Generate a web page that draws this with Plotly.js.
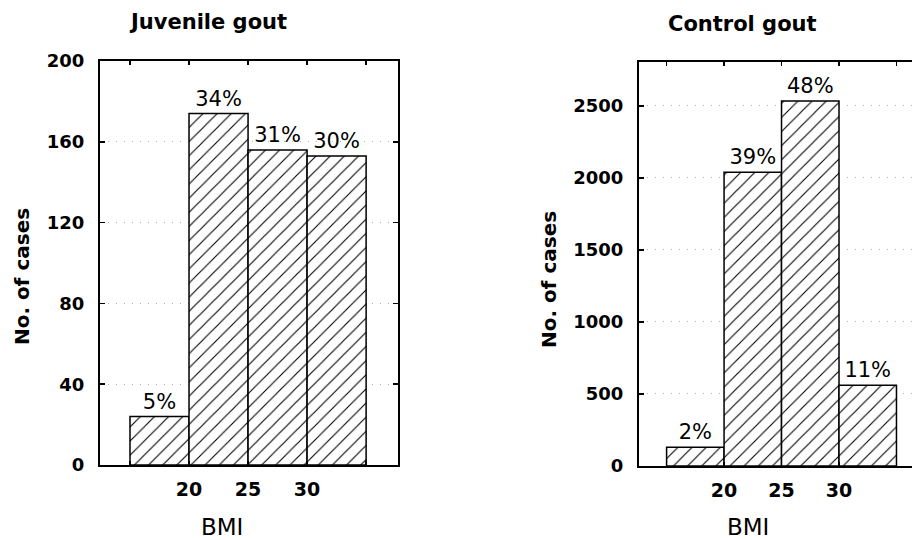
<!DOCTYPE html>
<html>
<head>
<meta charset="utf-8">
<script src="https://cdn.plot.ly/plotly-3.0.1.min.js"></script>
<style>html,body{margin:0;padding:0;background:#fff}#chart{width:912px;height:540px}</style>
</head>
<body>
<div id="chart"></div>
<script>
// BMI class midpoints (<20, 20-25, 25-30, >30) and bin width
var bmiMid = [17.5, 22.5, 27.5, 32.5];
var binWidth = 5;
var juvenileCases = [24, 174, 156, 153];
var juvenileLabels = ['5%', '34%', '31%', '30%'];
var controlCases = [130, 2040, 2535, 560];
var controlLabels = ['2%', '39%', '48%', '11%'];
var xTickVals = [15, 20, 25, 30, 35];
var xTickText = ['', '20', '25', '30', ''];
var juvYTicks = [0, 40, 80, 120, 160, 200];
var ctrlYTicks = [0, 500, 1000, 1500, 2000, 2500];

var FONT = 'DejaVu Sans, Verdana, sans-serif';

function barTrace(y, labels, xa, ya) {
  return {
    type: 'bar', x: bmiMid, y: y, width: binWidth,
    xaxis: xa, yaxis: ya,
    text: labels, textposition: 'outside', cliponaxis: false,
    textfont: {family: FONT, size: 21, color: '#000'},
    marker: {
      color: '#fff',
      line: {color: '#000', width: 1.5},
      pattern: {shape: '/', fgcolor: '#000', bgcolor: '#fff', size: 10, solidity: 0.11}
    },
    hoverinfo: 'none', showlegend: false
  };
}

function xAxis(domain, range, anchor) {
  return {
    domain: domain, range: range, anchor: anchor,
    tickvals: xTickVals, ticktext: xTickText,
    ticks: 'inside', ticklen: 4, tickwidth: 1.5, tickcolor: '#000',
    mirror: 'allticks', showline: true, linecolor: '#000', linewidth: 2,
    showgrid: false, zeroline: false, ticklabelstandoff: 6,
    tickfont: {family: FONT, size: 19, color: '#000', weight: 'bold'}
  };
}
function yAxis(domain, range, ticks, anchor, mirror) {
  return {
    domain: domain, range: range, anchor: anchor,
    tickvals: ticks,
    ticks: 'inside', ticklen: 5, tickwidth: 1.5, tickcolor: '#000',
    mirror: mirror, showline: true, linecolor: '#000', linewidth: 2,
    showgrid: true, gridcolor: '#b0b0b0', gridwidth: 1, griddash: '1px,7px',
    zeroline: false, ticklabelstandoff: 10,
    tickfont: {family: FONT, size: 18, color: '#000', weight: 'bold'}
  };
}

var data = [
  barTrace(juvenileCases, juvenileLabels, 'x', 'y'),
  barTrace(controlCases, controlLabels, 'x2', 'y2')
];

function ann(text, x, y, size, bold, angle) {
  return {text: text, x: x, y: y, xref: 'paper', yref: 'paper', showarrow: false,
    xanchor: 'center', yanchor: 'middle', textangle: angle || 0,
    font: {family: FONT, size: size, color: '#000', weight: bold ? 'bold' : 'normal'}};
}

var layout = {
  width: 912, height: 540,
  margin: {l: 0, r: 0, t: 0, b: 0},
  paper_bgcolor: '#fff', plot_bgcolor: '#fff',
  bargap: 0,
  xaxis: xAxis([100/912, 398/912], [12.46, 37.7], 'y'),
  yaxis: yAxis([1 - 465/540, 1 - 61/540], [0, 200], juvYTicks, 'x', 'ticks'),
  xaxis2: xAxis([639/912, 1], [12.6, 36.35], 'y2'),
  yaxis2: yAxis([1 - 466/540, 1 - 62/540], [0, 2805], ctrlYTicks, 'x2', false),
  annotations: [
    ann('Juvenile gout', 208/912, 1 - 22/540, 21, true),
    ann('Control gout', 742/912, 1 - 24/540, 21, true),
    ann('No. of cases', 22/912, 1 - 277/540, 20, true, -90),
    ann('No. of cases', 549/912, 1 - 280/540, 20, true, -90),
    ann('BMI', 222/912, 1 - 527/540, 23, false),
    ann('BMI', 748/912, 1 - 527/540, 23, false)
  ]
};

Plotly.newPlot('chart', data, layout, {staticPlot: true, displayModeBar: false});
</script>
</body>
</html>
